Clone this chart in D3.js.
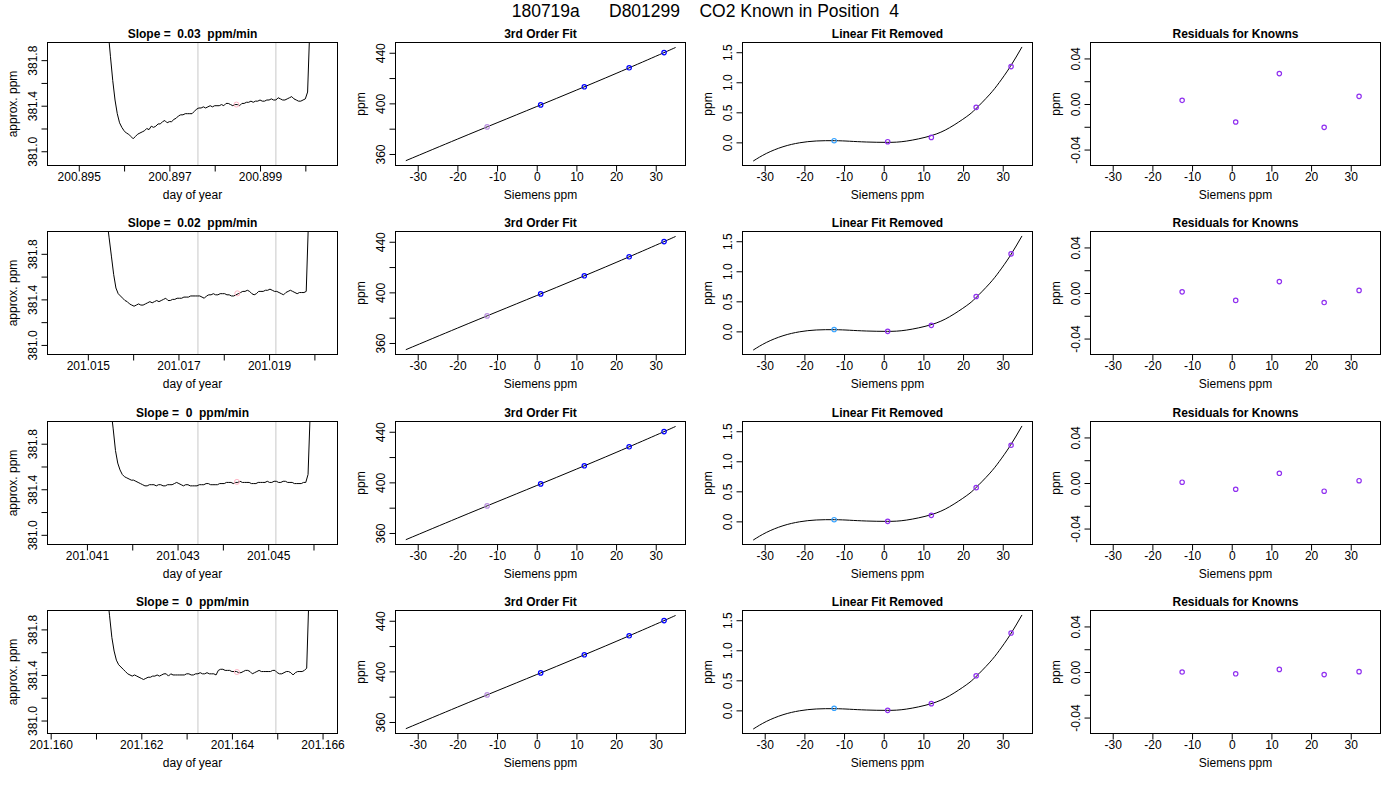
<!DOCTYPE html>
<html><head><meta charset="utf-8">
<script src="https://cdn.jsdelivr.net/npm/d3@7"></script>
<style>
body{margin:0;background:#fff}
svg text{font-family:"Liberation Sans",Arial,Helvetica,sans-serif}
</style>
</head><body>
<svg id="c" width="1400" height="800"></svg>
<script>
// ---------------- DATA ----------------
const mainTitle = "180719a      D801299    CO2 Known in Position  4";
const slopes = ["0.03", "0.02", "0", "0"];

// column 1: time series of approx. ppm (sampled every traceStep days from traceStart)
const dayLim = [[200.89431, 200.90071], [201.01411, 201.02051], [201.04013, 201.04653], [201.15993, 201.16633]];
const ppmLim = [[380.875, 381.955], [380.916, 381.996], [380.915, 381.995], [380.886, 381.966]];
const traceStart = [200.89565, 201.01542, 201.04153, 201.16125];
const traceStep = 0.00005;
const trace1 = [382.05, 381.83, 381.62, 381.45, 381.33, 381.25, 381.21, 381.18, 381.16, 381.15,
 381.13, 381.11, 381.13, 381.15, 381.16, 381.17, 381.18, 381.20, 381.19, 381.22,
 381.21, 381.22, 381.24, 381.24, 381.26, 381.27, 381.25, 381.26, 381.26, 381.28,
 381.29, 381.31, 381.32, 381.32, 381.33, 381.33, 381.33, 381.33, 381.35, 381.37,
 381.38, 381.38, 381.39, 381.38, 381.39, 381.40, 381.39, 381.40, 381.40, 381.40,
 381.41, 381.40, 381.42, 381.42, 381.41, 381.40, 381.41, 381.41, 381.40, 381.42,
 381.42, 381.43, 381.43, 381.44, 381.43, 381.44, 381.44, 381.45, 381.44, 381.44,
 381.45, 381.45, 381.46, 381.45, 381.45, 381.47, 381.46, 381.45, 381.45, 381.46,
 381.47, 381.48, 381.46, 381.45, 381.44, 381.44, 381.45, 381.46, 381.52, 382.10];
const trace2 = [382.10, 381.94, 381.78, 381.62, 381.50, 381.45, 381.43, 381.41, 381.39, 381.38,
 381.36, 381.35, 381.34, 381.35, 381.36, 381.35, 381.35, 381.36, 381.37, 381.38,
 381.37, 381.38, 381.39, 381.38, 381.39, 381.40, 381.41, 381.39, 381.39, 381.40,
 381.40, 381.41, 381.41, 381.41, 381.42, 381.42, 381.42, 381.43, 381.43, 381.43,
 381.43, 381.43, 381.42, 381.41, 381.43, 381.44, 381.44, 381.45, 381.44, 381.44,
 381.45, 381.45, 381.45, 381.44, 381.44, 381.43, 381.43, 381.44, 381.45, 381.46,
 381.47, 381.47, 381.48, 381.47, 381.45, 381.44, 381.45, 381.47, 381.47, 381.47,
 381.48, 381.48, 381.49, 381.48, 381.47, 381.47, 381.46, 381.45, 381.44, 381.46,
 381.47, 381.48, 381.47, 381.46, 381.45, 381.46, 381.46, 381.46, 381.47, 382.10];
const trace3 = [382.10, 381.93, 381.74, 381.63, 381.57, 381.53, 381.51, 381.50, 381.49, 381.48,
 381.48, 381.47, 381.46, 381.45, 381.44, 381.43, 381.43, 381.44, 381.44, 381.44,
 381.43, 381.44, 381.44, 381.43, 381.43, 381.44, 381.44, 381.44, 381.45, 381.46,
 381.45, 381.44, 381.43, 381.44, 381.44, 381.43, 381.43, 381.43, 381.43, 381.44,
 381.44, 381.44, 381.45, 381.45, 381.44, 381.44, 381.44, 381.44, 381.45, 381.45,
 381.45, 381.46, 381.46, 381.46, 381.45, 381.46, 381.46, 381.47, 381.46, 381.46,
 381.46, 381.46, 381.45, 381.45, 381.45, 381.46, 381.46, 381.46, 381.46, 381.47,
 381.46, 381.46, 381.47, 381.47, 381.46, 381.46, 381.47, 381.47, 381.46, 381.46,
 381.46, 381.45, 381.45, 381.45, 381.45, 381.46, 381.46, 381.53, 382.10];
const trace4 = [382.10, 381.92, 381.73, 381.61, 381.53, 381.49, 381.47, 381.45, 381.43, 381.41,
 381.40, 381.39, 381.40, 381.39, 381.38, 381.37, 381.36, 381.37, 381.38, 381.38,
 381.39, 381.39, 381.40, 381.39, 381.40, 381.41, 381.41, 381.39, 381.41, 381.40,
 381.40, 381.40, 381.40, 381.40, 381.40, 381.41, 381.41, 381.40, 381.40, 381.41,
 381.41, 381.42, 381.41, 381.41, 381.42, 381.41, 381.41, 381.41, 381.40, 381.44,
 381.45, 381.45, 381.44, 381.44, 381.44, 381.43, 381.43, 381.43, 381.42, 381.42,
 381.43, 381.44, 381.44, 381.43, 381.41, 381.42, 381.43, 381.44, 381.43, 381.43,
 381.43, 381.43, 381.43, 381.44, 381.44, 381.42, 381.41, 381.41, 381.42, 381.43,
 381.43, 381.42, 381.40, 381.42, 381.43, 381.43, 381.43, 381.44, 381.46, 382.10];
const traces = [trace1, trace2, trace3, trace4];
const windowStart = [200.89763, 201.01743, 201.04345, 201.16325];
const windowEnd = [200.89935, 201.01915, 201.04517, 201.16497];
const markDay = [200.89848, 201.01830, 201.04431, 201.16411];
const markPpm = [381.41, 381.453, 381.465, 381.426];

// columns 2-4: calibration
const siemens = [-12.5, 1.0, 12.0, 23.3, 32.1];
const knownPpm = [381.4, 398.8, 413.1, 428.1, 440.1];
const fitX = [-33, -20, -10, 0, 10, 20, 30, 35];
const fitY = [354.7, 371.74, 384.65, 397.5, 410.46, 423.65, 437.21, 444.18];
const cubicX = [-32.9, -29.6, -25.4, -21.2, -17.0, -12.4, -8.6, -4.4, 0.9, 5.7, 11.9, 16.6, 20.8, 23.2, 26.6, 29.1, 31.9, 34.85];
const cubicY = [-0.311, -0.185, -0.073, -0.007, 0.023, 0.028, 0.019, 0.006, 0.0, 0.021, 0.110, 0.244, 0.424, 0.558, 0.790, 0.994, 1.261, 1.588];
const linRemoved = [
  [0.028, 0.011, 0.083, 0.583, 1.261],
  [0.030, 0.000, 0.100, 0.580, 1.290],
  [0.028, 0.000, 0.100, 0.561, 1.267],
  [0.034, 0.000, 0.112, 0.576, 1.287]];
const residuals = [
  [0.0032, -0.0158, 0.0267, -0.0205, 0.0067],
  [0.0010, -0.0065, 0.0100, -0.0084, 0.0023],
  [0.0007, -0.0055, 0.0085, -0.0072, 0.0020],
  [0.0000, -0.0016, 0.0023, -0.0023, 0.0003]];
const siemensLim = [-35.6, 37.5];
const fitLim = [350.9, 448.1];
const linLim = [-0.385, 1.662];
const resLim = [-0.054, 0.054];
const fitColors = ["#bb90e0", "#0000ff", "#0000ff", "#0000ff", "#0000ff"];
const linColors = ["#35a2ff", "#9030f0", "#9030f0", "#9030f0", "#9030f0"];
const resColor = "#9030f0";

// ---------------- LAYOUT ----------------
const FONT = '"Liberation Sans",Arial,Helvetica,sans-serif';
const W = 290, H = 123;
const colX = [47.5, 395.5, 742.5, 1090.5];
const rowY = [42.5, 231.5, 421.5, 610.5];
const fmt = d3.formatLocale({decimal: ".", thousands: ",", grouping: [3], currency: ["", ""], minus: "-"}).format;

const svg = d3.select("#c");
const defs = svg.append("defs");
let clipN = 0;

svg.append("text").attr("x", 705.3).attr("y", 16.7).attr("text-anchor", "middle")
  .attr("font-size", 17.5).style("white-space", "pre").attr("fill", "#000").text(mainTitle);

function panel(col, row, xDom, yDom) {
  const x0 = colX[col], y0 = rowY[row];
  const x = d3.scaleLinear().domain(xDom).range([x0, x0 + W]);
  const y = d3.scaleLinear().domain(yDom).range([y0 + H, y0]);
  const id = "clip" + (clipN++);
  defs.append("clipPath").attr("id", id).append("rect")
    .attr("x", x0).attr("y", y0).attr("width", W).attr("height", H);
  const g = svg.append("g");
  const plot = g.append("g").attr("clip-path", `url(#${id})`);
  return {x, y, g, plot, x0, y0};
}

function axes(p, o) {
  const [xa, xb] = p.x.domain(), [ya, yb] = p.y.domain();
  const xt = p.x.ticks(o.xn).filter(v => v > xa && v < xb);
  const yt = p.y.ticks(o.yn).filter(v => v > ya && v < yb);
  const xf = fmt(o.xf), yf = fmt(o.yf);
  const gx = p.g.append("g").attr("transform", `translate(0,${p.y0 + H})`)
    .call(d3.axisBottom(p.x).tickValues(xt).tickSize(6).tickPadding(1)
      .tickFormat((d, i) => (o.xAlt && i % 2) ? "" : xf(d)));
  const gy = p.g.append("g").attr("transform", `translate(${p.x0},0)`)
    .call(d3.axisLeft(p.y).tickValues(yt).tickSize(6)
      .tickFormat((d, i) => (o.yAlt && i % 2) ? "" : yf(d)));
  gy.selectAll(".tick text").attr("transform", "rotate(-90)").attr("x", 0).attr("y", -10.4)
    .attr("dy", 0).attr("text-anchor", "middle");
  [gx, gy].forEach(a => {
    a.select(".domain").remove();
    a.attr("font-size", 12).attr("font-family", FONT);
    a.selectAll(".tick line").attr("stroke", "#000");
    a.selectAll(".tick text").attr("fill", "#000");
  });
  p.g.append("rect").attr("x", p.x0).attr("y", p.y0).attr("width", W).attr("height", H)
    .attr("fill", "none").attr("stroke", "#000").attr("stroke-width", 1);
  p.g.append("text").attr("x", p.x0 + W / 2).attr("y", p.y0 + H + 33).attr("text-anchor", "middle")
    .attr("font-size", 12).attr("fill", "#000").text(o.xl);
  p.g.append("text").attr("transform", `translate(${p.x0 - 31},${p.y0 + H / 2}) rotate(-90)`)
    .attr("text-anchor", "middle").attr("font-size", 12).attr("fill", "#000").text(o.yl);
  p.g.append("text").attr("x", p.x0 + W / 2).attr("y", p.y0 - 5).attr("text-anchor", "middle")
    .attr("font-size", 12).attr("font-weight", "bold").attr("fill", "#000")
    .style("white-space", "pre").text(o.title);
}

function circles(p, xs, ys, colors) {
  p.plot.selectAll(null).data(xs).enter().append("circle")
    .attr("cx", (d) => p.x(d)).attr("cy", (d, i) => p.y(ys[i])).attr("r", 2.2)
    .attr("fill", "none").attr("stroke", (d, i) => Array.isArray(colors) ? colors[i] : colors)
    .attr("stroke-width", 1.2);
}

for (let r = 0; r < 4; r++) {
  // ---- column 1: time series ----
  const p1 = panel(0, r, dayLim[r], ppmLim[r]);
  [windowStart[r], windowEnd[r]].forEach(d => {
    p1.plot.append("line").attr("x1", p1.x(d)).attr("x2", p1.x(d))
      .attr("y1", p1.y0).attr("y2", p1.y0 + H).attr("stroke", "#c8c8c8").attr("stroke-width", 1);
  });
  const tr = traces[r];
  const line1 = d3.line().x((d, i) => p1.x(traceStart[r] + i * traceStep)).y(d => p1.y(d));
  p1.plot.append("path").datum(tr).attr("d", line1).attr("fill", "none")
    .attr("stroke", "#000").attr("stroke-width", 1);
  p1.plot.append("circle").attr("cx", p1.x(markDay[r])).attr("cy", p1.y(markPpm[r])).attr("r", 2.5)
    .attr("fill", "none").attr("stroke", "#ffb4c4").attr("stroke-width", 1);
  axes(p1, {xn: 6, yn: 5, xf: ".3f", yf: ".1f", xAlt: true, yAlt: true,
    xl: "day of year", yl: "approx. ppm", title: "Slope =  " + slopes[r] + "  ppm/min"});

  // ---- column 2: 3rd order fit ----
  const p2 = panel(1, r, siemensLim, fitLim);
  const line2 = d3.line().x((d, i) => p2.x(fitX[i])).y(d => p2.y(d)).curve(d3.curveNatural);
  p2.plot.append("path").datum(fitY).attr("d", line2).attr("fill", "none")
    .attr("stroke", "#000").attr("stroke-width", 1);
  circles(p2, siemens, knownPpm, fitColors);
  axes(p2, {xn: 7, yn: 5, xf: "d", yf: "d", xAlt: false, yAlt: true,
    xl: "Siemens ppm", yl: "ppm", title: "3rd Order Fit"});

  // ---- column 3: linear fit removed ----
  const p3 = panel(2, r, siemensLim, linLim);
  const line3 = d3.line().x((d, i) => p3.x(cubicX[i])).y(d => p3.y(d)).curve(d3.curveNatural);
  p3.plot.append("path").datum(cubicY).attr("d", line3).attr("fill", "none")
    .attr("stroke", "#000").attr("stroke-width", 1);
  circles(p3, siemens, linRemoved[r], linColors);
  axes(p3, {xn: 7, yn: 4, xf: "d", yf: ".1f", xAlt: false, yAlt: false,
    xl: "Siemens ppm", yl: "ppm", title: "Linear Fit Removed"});

  // ---- column 4: residuals ----
  const p4 = panel(3, r, siemensLim, resLim);
  circles(p4, siemens, residuals[r], resColor);
  axes(p4, {xn: 7, yn: 5, xf: "d", yf: ".2f", xAlt: false, yAlt: true,
    xl: "Siemens ppm", yl: "ppm", title: "Residuals for Knowns"});
}
</script>
</body></html>
